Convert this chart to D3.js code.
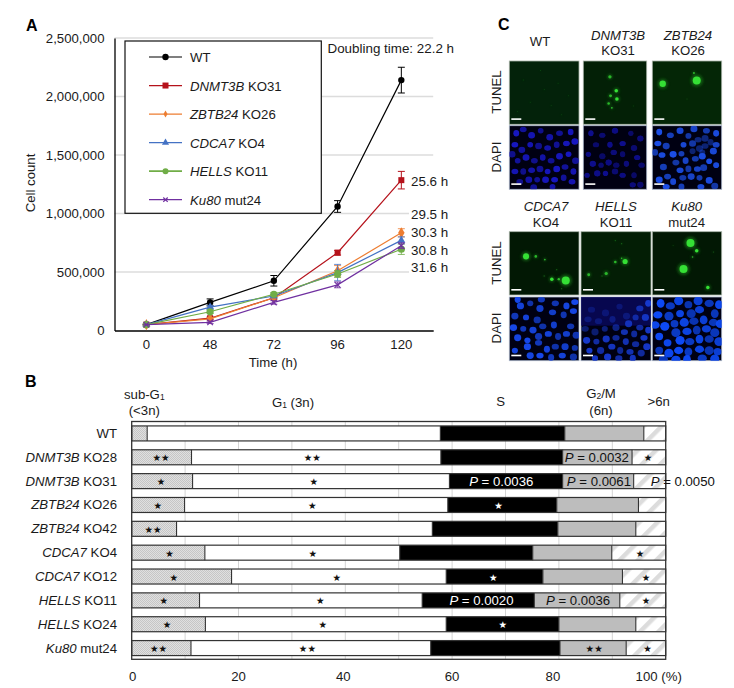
<!DOCTYPE html>
<html><head><meta charset="utf-8">
<script src="https://cdn.jsdelivr.net/npm/d3@7/dist/d3.min.js"></script>
<style>html,body{margin:0;padding:0;background:#fff}svg{display:block}text{font-family:"Liberation Sans",Arial,sans-serif;fill:#1a1a1a}</style>
</head><body><svg id="c" width="734" height="688"></svg>
<script>
// ---------- Panel A data ----------
const hours=["0","48","72","96","120"];
const yTicks=[0,500000,1000000,1500000,2000000,2500000];
const wt=[50000,240000,425000,1060000,2140000];
const dnmt3b=[50000,105000,280000,665000,1285000];
const zbtb24=[50000,100000,280000,510000,835000];
const cdca7=[50000,200000,295000,495000,770000];
const hells=[50000,160000,310000,483000,695000];
const ku80=[50000,70000,240000,390000,725000];
const wtErr=[5000,30000,45000,50000,110000];
const dnmt3bErr=[3000,10000,10000,20000,75000];
const zbtb24Err=[3000,10000,15000,45000,35000];
const cdca7Err=[3000,15000,15000,70000,30000];
const hellsErr=[3000,15000,15000,30000,45000];
const ku80Err=[3000,10000,15000,25000,25000];
const seriesItalic=["","DNMT3B","ZBTB24","CDCA7","HELLS","Ku80"];
const seriesPlain=["WT"," KO31"," KO26"," KO4"," KO11"," mut24"];
const seriesColors=["#000000","#b5121b","#ed7d31","#4472c4","#70ad47","#7030a0"];
const seriesSymbols=["circle","square","diamond","triangle","bigcircle","x"];
const doublingLabels=["25.6 h","29.5 h","30.3 h","30.8 h","31.6 h"];
// ---------- Panel B data ----------
const rowItalic=["","DNMT3B","DNMT3B","ZBTB24","ZBTB24","CDCA7","CDCA7","HELLS","HELLS","Ku80"];
const rowPlain=["WT"," KO28"," KO31"," KO26"," KO42"," KO4"," KO12"," KO11"," KO24"," mut24"];
const subG1=[2.9,11.2,11.4,9.9,8.4,13.7,18.7,12.7,13.8,11.1];
const g1=[54.9,46.7,48.1,49.3,47.9,36.5,40.2,41.7,45.1,44.9];
const sPhase=[23.3,22.8,21.2,20.4,23.5,24.9,18.1,21.0,21.1,24.2];
const g2m=[14.8,13.0,13.3,15.3,14.6,14.8,14.9,16.0,14.4,12.4];
const over6n=[4.1,6.3,6.0,5.1,5.6,10.1,8.1,8.6,5.6,7.4];
const xTicksB=[0,20,40,60,80,100];
const xTickTextB=["0","20","40","60","80","100 (%)"];
const xTickShiftB=[1,0,-2,0,-6,-7];
// annotations: row, percent position, text, white?
const notes=[[1,5.5,"★★"],[1,33.8,"★★"],[1,87.1,"P|0.0032"],[1,96.7,"★"],
[2,5.5,"★"],[2,34.1,"★"],[2,69.2,"P|0.0036",1],[2,87.5,"P|0.0061"],[2,103.2,"P|0.0050"],
[3,4.9,"★"],[3,33.8,"★"],[3,68.7,"★",1],[4,4.0,"★★"],
[5,7.1,"★"],[5,33.9,"★"],[5,95.2,"★"],
[6,7.9,"★"],[6,38.4,"★"],[6,67.7,"★",1],[6,96.3,"★"],
[7,6.0,"★"],[7,35.3,"★"],[7,65.5,"P|0.0020",1],[7,83.6,"P|0.0036"],[7,96.3,"★"],
[8,6.6,"★"],[8,35.8,"★"],[8,69.5,"★",1],
[9,5.0,"★★"],[9,32.9,"★★"],[9,86.6,"★★"],[9,96.6,"★"]];
// ---------- Panel C image features (percent of panel; size) ----------
const tunelWT=[[20,30,.5],[45,15,.5],[70,35,.5],[30,65,.5],[60,70,.5],[85,55,.5],[12,80,.5],[50,45,.5],[75,85,.5]];
const tunelDNMT=[[42,25,2],[52,47,2.2],[43,55,1.8],[53,60,2.2],[40,67,1.6],[45,74,1.2],[79,71,.5]];
const tunelZBTB=[[15,36,4],[64,31,5],[60,19,1.3],[50,60,.5]];
const tunelCDCA=[[24,39,3.8],[38,39,1.6],[51,44,1.1],[81,77,5],[61,75,2.2],[71,75,1.5],[68,60,.8],[50,70,.8],[75,90,.8]];
const tunelHELLS=[[63,47,3.2],[49,48,1.6],[36,66,2],[11,68,1.8],[49,14,.8],[58,19,.8],[58,42,1],[30,70,.8]];
const tunelKu=[[55,18,5],[45,59,5],[64,30,2.2],[80,88,2.2],[58,40,1],[88,32,.7],[30,22,.6]];
const dapiWT=[[10,12],[20,6],[32,15],[45,8],[58,18],[72,12],[88,10],[8,30],[18,38],[30,30],[42,32],[55,35],[68,30],[82,28],[94,25],[12,55],[24,50],[36,55],[48,50],[60,55],[72,48],[85,45],[95,55],[8,72],[20,72],[32,70],[44,68],[55,72],[68,68],[80,65],[92,72],[15,88],[28,85],[40,85],[52,85],[65,85],[78,82],[90,88],[4,45],[62,96],[35,97]];
const dapiDNMT=[[12,12],[30,15],[50,8],[75,12],[90,20],[20,30],[42,30],[62,28],[80,35],[8,45],[30,48],[48,42],[62,45],[85,50],[15,60],[28,62],[40,58],[52,62],[68,60],[92,62],[22,75],[35,75],[50,72],[62,78],[80,78],[78,93],[90,93],[6,78]];
const dapiZBTB=[[10,10],[26,15],[40,8],[52,16],[60,5],[78,8],[92,12],[8,28],[20,32],[45,30],[58,28],[92,30],[4,42],[14,46],[30,45],[42,44],[88,40],[34,58],[48,55],[62,52],[72,48],[82,56],[16,65],[40,70],[52,68],[65,68],[74,66],[92,62],[10,85],[22,80],[30,88],[44,82],[56,80],[68,82],[82,86],[20,96],[42,96],[70,96],[90,95],[58,40,.45],[68,36,.45],[76,32,.45],[84,26,.45],[66,22,.5],[76,20,.5],[72,42,.45]];
const dapiCDCA=[[12,4],[46,4],[16,14],[30,10],[44,18],[66,10],[82,14],[94,8],[8,30],[24,32],[40,36],[62,24],[78,28],[92,22],[6,48],[20,50],[34,52],[48,46],[64,44],[88,46],[12,64],[26,68],[42,62],[56,58],[70,62],[82,58],[96,60],[8,84],[26,78],[42,72],[54,82],[66,78],[80,78],[94,80],[30,92],[44,92],[60,95],[76,92],[92,94]];
const dapiHELLS=[[96,10],[84,18],[92,32],[78,32],[68,42],[84,48],[96,52],[6,50,.5],[20,55,.5],[34,50,.55],[50,48,.6],[62,55],[76,58],[90,64],[8,68],[22,70],[36,66],[50,64],[64,70],[78,74],[94,78],[12,84],[28,84],[44,78],[56,84],[70,86],[86,88],[20,96],[38,94],[54,96],[74,96],[15,20,.3],[35,25,.3],[55,15,.3],[65,30,.35],[25,38,.35],[45,35,.4],[10,35,.35]];
const dapiKu=[[12,10],[26,14],[38,6],[52,12],[66,6],[82,10],[96,12],[8,28],[24,30],[40,26],[56,26],[68,20],[90,26],[4,44],[18,46],[32,42],[46,40],[60,38],[74,36],[88,40],[98,42],[10,62],[34,56],[50,54],[64,52],[78,50],[90,56],[22,72],[40,68],[54,70],[68,66],[82,66],[96,70],[10,84],[24,88],[38,84],[52,86],[68,82],[82,84],[94,86],[16,98],[34,98],[50,98],[72,96],[90,97]];
const nucleusShade=[1,.78,.92,.7,.86,.74,.96];

const svg=d3.select("#c");
const defs=svg.append("defs");
defs.append("filter").attr("id","soft").append("feGaussianBlur").attr("stdDeviation",.55);
defs.append("filter").attr("id","glow").attr("x","-100%").attr("y","-100%").attr("width","300%").attr("height","300%").append("feGaussianBlur").attr("stdDeviation",1.4);
const stip=defs.append("pattern").attr("id","stipple").attr("width",2).attr("height",2).attr("patternUnits","userSpaceOnUse");
stip.append("rect").attr("width",2).attr("height",2).attr("fill","#e0e0e0");
stip.append("rect").attr("width",1).attr("height",1).attr("fill","#c6c6c6");
stip.append("rect").attr("x",1).attr("y",1).attr("width",1).attr("height",1).attr("fill","#c6c6c6");
const hat=defs.append("pattern").attr("id","hatch").attr("width",13).attr("height",13).attr("patternUnits","userSpaceOnUse").attr("patternTransform","rotate(45)");
hat.append("rect").attr("width",13).attr("height",13).attr("fill","#fff");
hat.append("rect").attr("width",4.5).attr("height",13).attr("fill","#dcdcdc");

const FS=13.2;
function txt(x,y,s,o={}){const t=svg.append("text").attr("x",x).attr("y",y).attr("font-size",o.size||FS).attr("text-anchor",o.anchor||"start").attr("dominant-baseline","central");
 if(s)t.text(s);
 if(o.weight)t.attr("font-weight",o.weight);if(o.rotate!=null)t.attr("transform",`rotate(${o.rotate} ${x} ${y})`);if(o.fill)t.style("fill",o.fill);return t;}
function rich(t,it,pl){if(it)t.append("tspan").attr("font-style","italic").text(it);t.append("tspan").text(pl);return t;}
function sub(t,a,b,c){t.append("tspan").text(a);t.append("tspan").attr("font-size",8.5).attr("dy",3).text(b);if(c)t.append("tspan").attr("dy",-3).text(c);}

// ---------- Panel A ----------
txt(26,25.5,"A",{size:16,weight:"bold"}).style("fill","#000");
const xA=d3.scaleBand().domain(hours).range([114.5,433.2]);
const yA=d3.scaleLinear().domain([0,2500000]).range([330.5,38]);
const cx=d=>xA(d)+xA.bandwidth()/2;
const gA=svg.append("g");
gA.selectAll("line.g").data(yTicks.slice(1)).join("line").attr("x1",xA.range()[0]).attr("x2",xA.range()[1]).attr("y1",d=>yA(d)).attr("y2",d=>yA(d)).attr("stroke","#dcdcdc").attr("stroke-width",1.4);
const ayA=svg.append("g").attr("transform","translate(114.5,0)").call(d3.axisLeft(yA).tickValues(yTicks).tickSize(0).tickPadding(10).tickFormat(d3.format(",")));
ayA.select(".domain").attr("stroke","#000").attr("stroke-width",1.3);
ayA.selectAll("text").attr("font-size",FS).attr("font-family","Liberation Sans");
const axA=svg.append("g").attr("transform","translate(0,330.5)").call(d3.axisBottom(xA).tickSize(0).tickPadding(9));
axA.select(".domain").attr("stroke","#000").attr("stroke-width",1.3);
axA.selectAll("text").attr("font-size",FS).attr("font-family","Liberation Sans");
txt(30,183,"Cell count",{anchor:"middle",rotate:-90});
txt(273,362,"Time (h)",{anchor:"middle"});

function marker(g,sym,x,y,color,big){
 if(sym==="circle")g.append("circle").attr("cx",x).attr("cy",y).attr("r",3.2).attr("fill",color);
 if(sym==="bigcircle")g.append("circle").attr("cx",x).attr("cy",y).attr("r",big?3.6:3).attr("fill",color);
 if(sym==="square")g.append("rect").attr("x",x-3).attr("y",y-3).attr("width",6).attr("height",6).attr("fill",color);
 if(sym==="diamond")g.append("path").attr("d",d3.symbol(d3.symbolDiamond,big?36:14)()).attr("transform",`translate(${x},${y})`).attr("fill",color);
 if(sym==="triangle")g.append("path").attr("d",d3.symbol(d3.symbolTriangle,big?28:22)()).attr("transform",`translate(${x},${y})`).attr("fill",color);
 if(sym==="x"){const r=big?2.8:2.2;g.append("path").attr("d",`M${x-r},${y-r}L${x+r},${y+r}M${x-r},${y+r}L${x+r},${y-r}`).attr("stroke",color).attr("stroke-width",1.2).attr("fill","none");}
}
const seriesVals=[wt,dnmt3b,zbtb24,cdca7,hells,ku80];
const seriesErrs=[wtErr,dnmt3bErr,zbtb24Err,cdca7Err,hellsErr,ku80Err];
const line=d3.line().x((d,i)=>cx(hours[i])).y(d=>yA(d));
seriesVals.forEach((vals,k)=>{
 const g=svg.append("g"),col=seriesColors[k];
 vals.forEach((v,i)=>{const x=cx(hours[i]),e=seriesErrs[k][i];
  g.append("path").attr("d",`M${x-3.5},${yA(v+e)}H${x+3.5}M${x},${yA(v+e)}V${yA(v-e)}M${x-3.5},${yA(v-e)}H${x+3.5}`).attr("stroke",col).attr("stroke-width",1).attr("fill","none").attr("opacity",k===0||k===1?1:.8);});
 g.append("path").attr("d",line(vals)).attr("fill","none").attr("stroke",col).attr("stroke-width",1.2);
 vals.forEach((v,i)=>marker(g,seriesSymbols[k],cx(hours[i]),yA(v),col,true));
});
// legend
svg.append("rect").attr("x",125).attr("y",41).attr("width",196.3).attr("height",172.3).attr("fill","#fff").attr("stroke","#111").attr("stroke-width",1.2);
const legY=d3.scalePoint().domain(d3.range(6)).range([57,199.7]);
seriesColors.forEach((c,k)=>{const y=legY(k),g=svg.append("g");
 g.append("line").attr("x1",149).attr("x2",182).attr("y1",y).attr("y2",y).attr("stroke",c).attr("stroke-width",k==4?1.6:1.2);
 marker(g,seriesSymbols[k],165.5,y,c,false);
 rich(txt(190,y,""),seriesItalic[k],seriesPlain[k]);
});
txt(327.5,48,"Doubling time: 22.2 h",{size:13.4});
const dblY=[181,214,232,250,267];
doublingLabels.forEach((s,i)=>{svg.append("rect").attr("x",409).attr("y",dblY[i]-7).attr("width",44).attr("height",14).attr("fill","#fff");txt(411,dblY[i],s,{size:13.4});});

// ---------- Panel B ----------
txt(25,381,"B",{size:16,weight:"bold"}).style("fill","#000");
const xB=d3.scaleLinear().domain([0,100]).range([131.7,665.7]);
const yB=d3.scaleBand().domain(d3.range(10)).range([421.5,660]);
const barH=15;
const barY=i=>yB(i)+yB.bandwidth()/2-barH/2;
svg.selectAll("line.gb").data(d3.range(10,100,10)).join("line").attr("x1",d=>xB(d)).attr("x2",d=>xB(d)).attr("y1",421.5).attr("y2",659).attr("stroke","#d4d4d4").attr("stroke-width",1);
const rows=d3.range(10).map(i=>({i,a:subG1[i],b:g1[i],c:sPhase[i],d:g2m[i],e:over6n[i]}));
const stacked=d3.stack().keys(["a","b","c","d","e"])(rows);
const fills=["url(#stipple)","#ffffff","#000000","#bdbdbd","url(#hatch)"];
stacked.forEach((layer,k)=>{svg.append("g").selectAll("rect").data(layer).join("rect")
 .attr("x",d=>xB(d[0])).attr("width",d=>xB(d[1])-xB(d[0])).attr("y",d=>barY(d.data.i)).attr("height",barH)
 .attr("fill",fills[k]);});
rows.forEach(r=>{const g=svg.append("g");
 g.append("rect").attr("x",xB(0)).attr("y",barY(r.i)).attr("width",xB(100)-xB(0)).attr("height",barH).attr("fill","none").attr("stroke","#333").attr("stroke-width",1.2);
 stacked.slice(0,4).forEach(l=>{const v=l[r.i][1];g.append("line").attr("x1",xB(v)).attr("x2",xB(v)).attr("y1",barY(r.i)).attr("y2",barY(r.i)+barH).attr("stroke","#333").attr("stroke-width",1.1);});
});
svg.append("rect").attr("x",xB(0)).attr("y",421.5).attr("width",xB(100)-xB(0)).attr("height",237.8).attr("fill","none").attr("stroke","#333").attr("stroke-width",1.3);
rows.forEach(r=>rich(txt(117,yB(r.i)+yB.bandwidth()/2-.5,"",{anchor:"end"}),rowItalic[r.i],rowPlain[r.i]));
notes.forEach(([r,p,s,w])=>{const y=yB(r)+yB.bandwidth()/2;
 const col=w?"#fff":"#111";
 if(s.startsWith("P|")){const t=txt(xB(p),y-.5,"",{anchor:"middle",fill:col});
  t.append("tspan").attr("font-style","italic").text("P");t.append("tspan").text(" = "+s.slice(2));}
 else{txt(xB(p),y+.5,s,{anchor:"middle",size:9.5,fill:col}).style("font-family","DejaVu Sans");}
});
xTicksB.forEach((v,i)=>txt(xB(v)+xTickShiftB[i],676.5,xTickTextB[i],{anchor:"middle"}));
txt(144.3,393.5,"",{anchor:"middle"}).call(t=>sub(t,"sub-G","1",""));
txt(144.3,410,"(<3n)",{anchor:"middle"});
txt(293,401.5,"",{anchor:"middle"}).call(t=>sub(t,"G","1"," (3n)"));
txt(500.7,401,"S",{anchor:"middle"});
txt(601,393,"",{anchor:"middle"}).call(t=>sub(t,"G","2","/M"));
txt(601,410,"(6n)",{anchor:"middle"});
txt(658.7,401,">6n",{anchor:"middle"});

// ---------- Panel C ----------
txt(498,24,"C",{size:16,weight:"bold"}).style("fill","#000");
function scaleBar(g,x0,y1){g.append("rect").attr("x",x0+2).attr("y",y1-6).attr("width",10).attr("height",1.6).attr("fill","#fff");}
function tunel(x0,x1,y0,y1,blobs,bg){
 const sx=d3.scaleLinear([0,100],[x0,x1]),sy=d3.scaleLinear([0,100],[y0,y1]);
 const id="c"+Math.round(x0)+"_"+Math.round(y0);
 defs.append("clipPath").attr("id",id).append("rect").attr("x",x0).attr("y",y0).attr("width",x1-x0).attr("height",y1-y0);
 svg.append("rect").attr("x",x0).attr("y",y0).attr("width",x1-x0).attr("height",y1-y0).attr("fill",bg).attr("stroke","#a8b4a8").attr("stroke-width",.8);
 const g=svg.append("g").attr("clip-path",`url(#${id})`);
 blobs.forEach(([a,b,r])=>{
  g.append("circle").attr("cx",sx(a)).attr("cy",sy(b)).attr("r",r*1.2).attr("fill","#1f8f1f").attr("opacity",r<1?.3:.6).attr("filter","url(#glow)");
  g.append("circle").attr("cx",sx(a)).attr("cy",sy(b)).attr("r",r*.8).attr("fill",r>2?"#34e034":"#2cb82c").attr("opacity",r<1?.45:1).attr("filter","url(#soft)");
 });
 scaleBar(g,x0,y1);
}
function dapi(x0,x1,y0,y1,nuc,col,rad,extra){
 const sx=d3.scaleLinear([0,100],[x0,x1]),sy=d3.scaleLinear([0,100],[y0,y1]);
 const id="d"+Math.round(x0)+"_"+Math.round(y0);
 defs.append("clipPath").attr("id",id).append("rect").attr("x",x0).attr("y",y0).attr("width",x1-x0).attr("height",y1-y0);
 svg.append("rect").attr("x",x0).attr("y",y0).attr("width",x1-x0).attr("height",y1-y0).attr("fill","#000012").attr("stroke","#a8b4c8").attr("stroke-width",.8);
 const g=svg.append("g").attr("clip-path",`url(#${id})`);
 if(extra)extra(g,sx,sy);
 g.selectAll("ellipse").data(nuc).join("ellipse").attr("cx",d=>sx(d[0])).attr("cy",d=>sy(d[1])).attr("rx",(d,i)=>rad*(i%3?1:.85)).attr("ry",(d,i)=>rad*(i%2?.8:.95))
  .attr("fill",col).attr("opacity",(d,i)=>d[2]||nucleusShade[i%nucleusShade.length]).attr("filter","url(#soft)");
 scaleBar(g,x0,y1);
}
const col1=[509.3,579],col2=[583.3,646.7],col3=[652.3,721.7],col2b=[581,651];
tunel(col1[0],col1[1],61,124.3,tunelWT,"#03220a");
tunel(col2[0],col2[1],61,124.3,tunelDNMT,"#032006");
tunel(col3[0],col3[1],61,124.3,tunelZBTB,"#042606");
dapi(col1[0],col1[1],125.7,189.3,dapiWT,"#1818c0",3.4);
dapi(col2[0],col2[1],125.7,189.3,dapiDNMT,"#10108c",3.2);
dapi(col3[0],col3[1],125.7,189.3,dapiZBTB,"#1a4ee4",3.5);
tunel(col1[0],col1[1],231.7,295,tunelCDCA,"#021804");
tunel(col2b[0],col2b[1],231.7,295,tunelHELLS,"#031e05");
tunel(col3[0],col3[1],231.7,295,tunelKu,"#021804");
dapi(col1[0],col1[1],297,360.7,dapiCDCA,"#1446e8",3.6);
dapi(col2b[0],col2b[1],297,360.7,dapiHELLS,"#1438cc",3.6,(g,sx,sy)=>{g.append("rect").attr("x",sx(0)).attr("y",sy(0)).attr("width",sx(100)-sx(0)).attr("height",sy(45)-sy(0)).attr("fill","#0a0a6a").attr("opacity",.7);});
dapi(col3[0],col3[1],297,360.7,dapiKu,"#0f48f4",4.6);

txt(540,41.5,"WT",{anchor:"middle"});
txt(618,35,"",{anchor:"middle"}).append("tspan").attr("font-style","italic").text("DNMT3B");
txt(618,50.7,"KO31",{anchor:"middle"});
txt(688,35,"",{anchor:"middle"}).append("tspan").attr("font-style","italic").text("ZBTB24");
txt(688,50.7,"KO26",{anchor:"middle"});
txt(546,206,"",{anchor:"middle"}).append("tspan").attr("font-style","italic").text("CDCA7");
txt(546,222,"KO4",{anchor:"middle"});
txt(616,206,"",{anchor:"middle"}).append("tspan").attr("font-style","italic").text("HELLS");
txt(616,222,"KO11",{anchor:"middle"});
txt(686.7,206,"",{anchor:"middle"}).append("tspan").attr("font-style","italic").text("Ku80");
txt(686.7,222,"mut24",{anchor:"middle"});
[[92,"TUNEL"],[157,"DAPI"],[263,"TUNEL"],[328,"DAPI"]].forEach(([y,s])=>txt(496,y,s,{anchor:"middle",rotate:-90}));
</script></body></html>
